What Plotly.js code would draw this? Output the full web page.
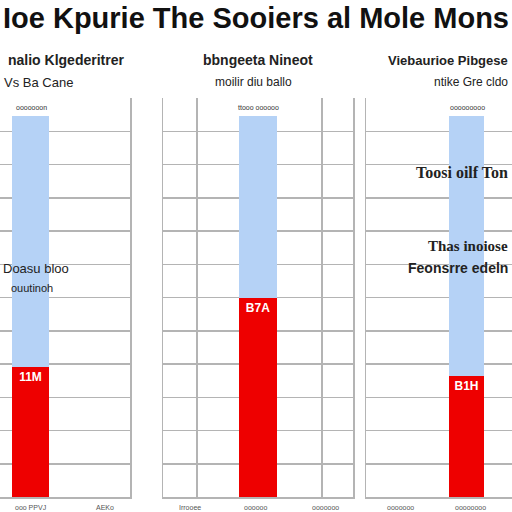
<!DOCTYPE html>
<html>
<head>
<meta charset="utf-8">
<script src="https://cdn.plot.ly/plotly-3.0.1.min.js"></script>
<style>html,body{margin:0;padding:0;background:#fff;}#chart{width:512px;height:512px;}</style>
</head>
<body>
<div id="chart"></div>
<script>
// Data
const panels = ["nalio Klgederitrer", "bbngeeta Nineot", "Viebaurioe Pibgese"];
const subtitles = ["Vs Ba Cane", "moilir diu ballo", "ntike Gre cldo"];
const barTopLabels = ["ooooooon", "ttooo oooooo", "ooooooooo"];
const redValues = [3.9, 6.0, 3.65];
const blueValues = [7.55, 5.45, 7.8];
const redLabels = ["11M", "B7A", "B1H"];
const bottomLabels = ["ooo PPVJ", "AEKo", "Irrooee", "oooooo", "ooooooo", "ooooooo", "oooooooo"];

const RED = "#ee0000";
const BLUE = "#b5d2f6";
const GRID = "#b4b4b4";

const axesSuffix = ["", "2", "3"];
const traces = [];
panels.forEach((p, i) => {
  const xa = "x" + axesSuffix[i], ya = "y" + axesSuffix[i];
  traces.push({
    type: "bar", x: [0], y: [redValues[i]], width: [1],
    xaxis: xa, yaxis: ya, marker: {color: RED, line: {width: 0}},
    text: [redLabels[i]], textposition: "inside", insidetextanchor: "end",
    textfont: {color: "#ffffff", size: 12, family: "Liberation Sans, Arial", weight: "bold"},
    hoverinfo: "skip", showlegend: false
  });
  traces.push({
    type: "bar", x: [0], y: [blueValues[i]], width: [1],
    xaxis: xa, yaxis: ya, marker: {color: BLUE, line: {width: 0}},
    hoverinfo: "skip", showlegend: false
  });
});

const yDomain = [15/512, 414/512];
function yax(anchor, mirror) {
  return {
    domain: yDomain, range: [0, 12], dtick: 1, showgrid: true, gridcolor: GRID, gridwidth: 1.5,
    showticklabels: false, ticks: "", zeroline: false,
    showline: true, linecolor: GRID, linewidth: 1.5, mirror: mirror, anchor: anchor, fixedrange: true
  };
}
function xax(domain, range, tickvals, anchor) {
  return {
    domain: domain, range: range, tickvals: tickvals, showgrid: tickvals.length > 0,
    gridcolor: GRID, gridwidth: 1.5, showticklabels: false, ticks: "", zeroline: false,
    showline: true, linecolor: GRID, linewidth: 1.5, anchor: anchor, fixedrange: true
  };
}

const F = "Liberation Sans, Arial, sans-serif";
const annotations = [];
function paperText(text, x, y, size, opts) {
  annotations.push(Object.assign({
    text: text, xref: "paper", yref: "paper", x: x / 512, y: 1 - y / 512,
    showarrow: false, xanchor: "center", yanchor: "middle",
    font: {family: F, size: size, color: "#222"}
  }, opts || {}));
}
// subplot titles
paperText("<b>" + panels[0] + "</b>", 66, 60, 14);
paperText(subtitles[0], 38, 82, 13);
paperText("<b>" + panels[1] + "</b>", 258, 60, 14);
paperText(subtitles[1], 253, 82, 12);
paperText("<b>" + panels[2] + "</b>", 510, 60, 13, {xanchor: "right"});
paperText(subtitles[2], 510, 82, 12, {xanchor: "right"});
// labels above bars
paperText(barTopLabels[0], 31, 107, 7, {font: {family: F, size: 7, color: "#333"}});
paperText(barTopLabels[1], 258, 107, 7, {font: {family: F, size: 7, color: "#333"}});
paperText(barTopLabels[2], 467, 107, 7, {font: {family: F, size: 7, color: "#333"}});
// floating texts
paperText("Doasu bloo", 36, 268, 13);
paperText("ouutinoh", 32, 288, 11);
paperText("<b>Toosi oilf Ton</b>", 510, 172, 16, {xanchor: "right", font: {family: "Liberation Serif, serif", size: 16, color: "#222"}});
paperText("<b>Thas inoiose</b>", 510, 246, 15, {xanchor: "right", font: {family: "Liberation Serif, serif", size: 15, color: "#222"}});
paperText("<b>Feonsrre edeln</b>", 510, 268, 14, {xanchor: "right", font: {family: F, size: 14, color: "#222"}});
// bottom tick-like labels
const bx = [30, 105, 190, 255, 325, 400, 470];
bottomLabels.forEach((t, i) => paperText(t, bx[i], 507, 7, {font: {family: F, size: 7, color: "#555"}}));

const layout = {
  width: 512, height: 512, margin: {l: 0, r: 0, t: 0, b: 0},
  paper_bgcolor: "#ffffff", plot_bgcolor: "#ffffff",
  barmode: "stack", showlegend: false,
  title: {text: "<b>Ioe Kpurie The Sooiers al Mole Mons</b>", x: 0.5, xanchor: "center", y: 1 - 18/512, yanchor: "middle",
          font: {family: F, size: 29, color: "#111"}},
  xaxis: xax([0, 130/512], [-0.824, 2.69], [], "y"),
  yaxis: yax("x", true),
  xaxis2: xax([163/512, 353/512], [-2.5, 2.5], [-1.6, 1.68], "y2"),
  yaxis2: yax("x2", true),
  xaxis3: xax([366/512, 1], [-2.871, 1.3], [], "y3"),
  yaxis3: yax("x3", false),
  annotations: annotations
};

Plotly.newPlot("chart", traces, layout, {staticPlot: true, displayModeBar: false});
</script>
</body>
</html>
